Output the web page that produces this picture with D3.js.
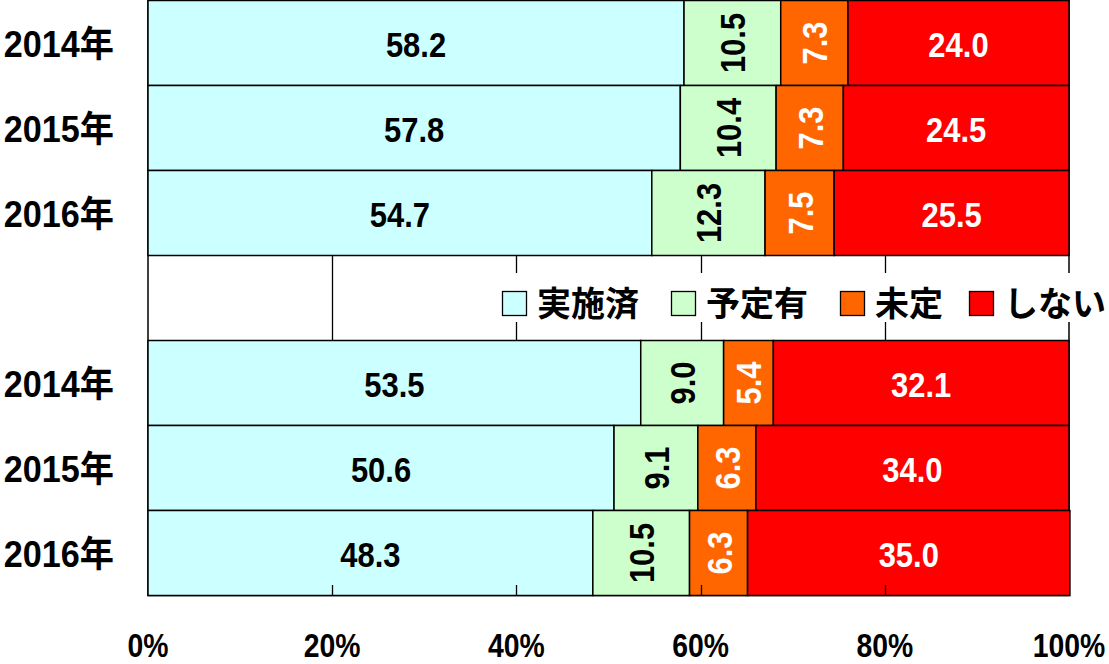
<!DOCTYPE html>
<html>
<head>
<meta charset="utf-8">
<script src="https://cdn.jsdelivr.net/npm/d3@7"></script>
<style>
html,body{margin:0;padding:0;background:#fff;}
svg{display:block;}
</style>
</head>
<body>
<svg id="chart" width="1109" height="664"></svg>
<script>
// ---- data ----
const categories = ["2014年", "2015年", "2016年", "", "2014年", "2015年", "2016年"];
const seriesNames = ["実施済", "予定有", "未定", "しない"];
const jisshizumi = [58.2, 57.8, 54.7, null, 53.5, 50.6, 48.3];
const yoteiari   = [10.5, 10.4, 12.3, null, 9.0, 9.1, 10.5];
const mitei      = [7.3, 7.3, 7.5, null, 5.4, 6.3, 6.3];
const shinai     = [24.0, 24.5, 25.5, null, 32.1, 34.0, 35.0];
const tickValues = [0, 20, 40, 60, 80, 100];
const tickLabels = ["0%", "20%", "40%", "60%", "80%", "100%"];

// ---- styles ----
const colors = ["#CCFFFF", "#CCFFCC", "#FF6600", "#FF0000"];
const labelColors = ["#000", "#000", "#fff", "#fff"];
const rotated = [false, true, true, false];
const numFont = "'Liberation Sans', Arial, 'Noto Sans CJK JP', sans-serif";
const cjkFont = "'Noto Sans CJK JP', 'Liberation Sans', sans-serif";
const legendX = [502, 671, 840, 969];

const rows = categories.map((c, i) => ({
  idx: i, cat: c,
  "実施済": jisshizumi[i], "予定有": yoteiari[i], "未定": mitei[i], "しない": shinai[i]
}));

const svg = d3.select("#chart");
const x = d3.scaleLinear().domain([0, 100]).range([148, 1069]);
const y = d3.scaleBand().domain(rows.map(r => r.idx)).range([0.5, 595.5]).paddingInner(0).paddingOuter(0);

// gridlines (behind bars)
svg.append("g").selectAll("line").data(tickValues.filter(t => t > 0 && t < 100)).join("line")
  .attr("x1", d => Math.round(x(d)) + 0.5).attr("x2", d => Math.round(x(d)) + 0.5)
  .attr("y1", 0).attr("y2", 595.5)
  .attr("stroke", "#000").attr("stroke-width", 1.3);

// plot border
svg.append("rect")
  .attr("x", x(0)).attr("y", 0.5).attr("width", x(100) - x(0)).attr("height", 595)
  .attr("fill", "none").attr("stroke", "#000").attr("stroke-width", 1.5);

const stack = d3.stack().keys(seriesNames).value((d, k) => d[k] == null ? 0 : d[k]);
const stacked = stack(rows.filter(r => r.cat !== ""));

const layers = svg.append("g").selectAll("g").data(stacked).join("g")
  .attr("fill", (d, i) => colors[i]);

layers.selectAll("rect").data(d => d).join("rect")
  .attr("x", d => x(d[0]))
  .attr("y", d => y(d.data.idx))
  .attr("width", d => x(d[1]) - x(d[0]))
  .attr("height", y.bandwidth())
  .attr("stroke", "#000").attr("stroke-width", 1.5);

// value labels
stacked.forEach((layer, li) => {
  svg.append("g").selectAll("text").data(layer).join("text")
    .attr("transform", d => {
      const cx = (x(d[0]) + x(d[1])) / 2;
      const cy = y(d.data.idx) + y.bandwidth() / 2;
      return rotated[li]
        ? `translate(${cx + 13},${cy}) rotate(-90) scale(0.86,1)`
        : `translate(${cx},${cy + 14}) scale(0.86,1)`;
    })
    .attr("text-anchor", "middle")
    .attr("font-family", numFont).attr("font-weight", "bold").attr("font-size", 36)
    .attr("fill", labelColors[li])
    .text(d => (d[1] - d[0]).toFixed(1));
});

// bottom inner ticks
svg.append("g").selectAll("line").data(tickValues.filter(t => t > 0 && t < 100)).join("line")
  .attr("x1", d => Math.round(x(d)) + 0.5).attr("x2", d => Math.round(x(d)) + 0.5)
  .attr("y1", 585).attr("y2", 595)
  .attr("stroke", "#000").attr("stroke-width", 1.3);

// x tick labels
svg.append("g").selectAll("text").data(tickValues).join("text")
  .attr("transform", (d, i) => `translate(${x(d)},657) scale(0.86,1)`)
  .attr("text-anchor", "middle")
  .attr("font-family", numFont).attr("font-weight", "bold").attr("font-size", 33)
  .attr("fill", "#000")
  .text((d, i) => tickLabels[i]);

// category labels
svg.append("g").selectAll("text").data(rows.filter(r => r.cat !== "")).join("text")
  .attr("transform", d => `translate(114,${y(d.idx) + y.bandwidth() / 2 + 14}) scale(0.95,1)`)
  .attr("text-anchor", "end")
  .attr("font-family", numFont).attr("font-weight", "bold").attr("font-size", 36)
  .attr("fill", "#000")
  .text(d => d.cat);

// legend
const lg = svg.append("g");
lg.append("rect").attr("x", 495).attr("y", 273).attr("width", 614).attr("height", 49).attr("fill", "#fff");
seriesNames.forEach((name, i) => {
  const lx = legendX[i];
  lg.append("rect").attr("x", lx + 0.5).attr("y", 291.5).attr("width", 24).attr("height", 24)
    .attr("fill", colors[i]).attr("stroke", "#000").attr("stroke-width", 1.3);
  lg.append("text").attr("x", lx + 35).attr("y", 316)
    .attr("font-family", cjkFont).attr("font-weight", "bold").attr("font-size", 34)
    .attr("fill", "#000").text(name);
});
</script>
</body>
</html>
